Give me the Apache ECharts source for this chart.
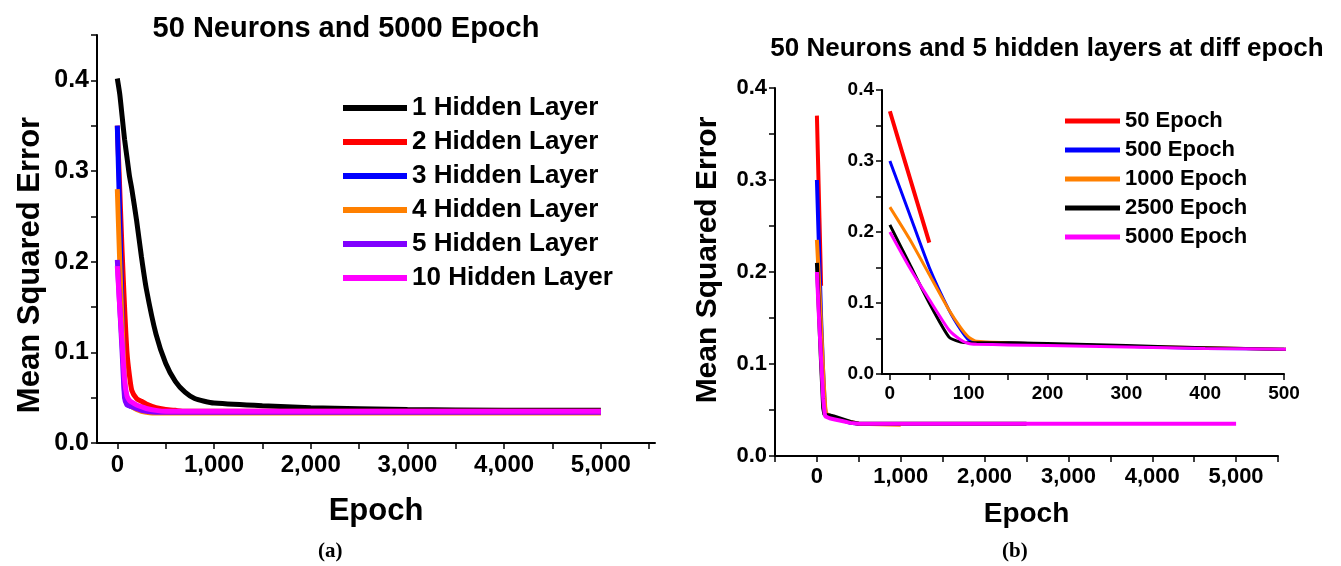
<!DOCTYPE html>
<html>
<head>
<meta charset="utf-8">
<script src="https://cdn.jsdelivr.net/npm/echarts@6/dist/echarts.min.js"></script>
<style>
html,body{margin:0;padding:0;background:#fff;}
#chart{width:1341px;height:566px;}
</style>
</head>
<body>
<div id="chart"></div>
<script>
// (a) 50 neurons, 5000 epoch, different hidden layers
var epochA = [0,25,50,75,100,125,150,200,250,300,400,500,600,700,800,900,1000,1500,2000,3000,4000,5000];
var hl1  = [0.402,0.385,0.36,0.335,0.315,0.295,0.28,0.245,0.205,0.17,0.12,0.088,0.068,0.056,0.049,0.046,0.044,0.041,0.039,0.037,0.036,0.036];
var hl2  = [0.35,0.28,0.21,0.15,0.10,0.075,0.058,0.049,0.046,0.043,0.039,0.037,0.036,0.035,0.035,0.035,0.035,0.035,0.035,0.035,0.035,0.035];
var hl3  = [0.35,0.25,0.14,0.055,0.043,0.041,0.040,0.038,0.036,0.035,0.034,0.034,0.034,0.034,0.034,0.034,0.034,0.034,0.034,0.034,0.034,0.034];
var hl4  = [0.28,0.20,0.13,0.07,0.046,0.042,0.040,0.037,0.035,0.034,0.033,0.033,0.033,0.033,0.033,0.033,0.033,0.033,0.033,0.033,0.033,0.033];
var hl5  = [0.202,0.15,0.10,0.05,0.042,0.041,0.040,0.038,0.036,0.035,0.034,0.034,0.034,0.034,0.034,0.034,0.034,0.034,0.034,0.034,0.034,0.034];
var hl10 = [0.195,0.15,0.11,0.07,0.052,0.047,0.045,0.042,0.040,0.038,0.036,0.035,0.035,0.035,0.035,0.035,0.035,0.035,0.035,0.035,0.035,0.035];
var namesA = ['1 Hidden Layer','2 Hidden Layer','3 Hidden Layer','4 Hidden Layer','5 Hidden Layer','10 Hidden Layer'];
var colorsA = ['#000000','#ff0000','#0000ff','#ff8000','#8000ff','#ff00ff'];

// (b) 50 neurons, 5 hidden layers at diff epoch
var ep50 = [0,10,20,30,40,50];
var mse50 = [0.37,0.333,0.296,0.259,0.222,0.185];
var epochB = [0,25,50,75,90,100,110,150,200,300,400,500,1000,2000,2500,3000,4000,5000];
var mse500  = [0.30,0.225,0.15,0.09,0.062,0.048,0.045,0.044,0.042,0.039,0.036,0.035];
var mse1000 = [0.235,0.19,0.14,0.09,0.065,0.052,0.046,0.044,0.042,0.039,0.037,0.035,0.034];
var mse2500 = [0.21,0.155,0.10,0.052,0.045,0.044,0.044,0.044,0.043,0.040,0.037,0.035,0.035,0.035,0.035];
var mse5000 = [0.20,0.15,0.105,0.062,0.048,0.043,0.042,0.041,0.040,0.038,0.036,0.035,0.035,0.035,0.035,0.035,0.035,0.035];
var namesB = ['50 Epoch','500 Epoch','1000 Epoch','2500 Epoch','5000 Epoch'];
var colorsB = ['#ff0000','#0000ff','#ff8000','#000000','#ff00ff'];

var F = 'Liberation Sans, Arial, sans-serif';

function zip(xs, ys){
    var out = [];
    for(var i=0; i<ys.length; i++) out.push([xs[i], ys[i]]);
    return out;
}
function thousands(v){
    return String(v).replace(/\B(?=(\d{3})+(?!\d))/g, ',');
}
function steps(a, b, s){
    var out = [];
    for(var v=a; v<=b+1e-9; v+=s) out.push(Math.round(v*1000)/1000);
    return out;
}

function xAxisOf(gi, min, max, labels, ticks, size, name, gap, nameSize){
    return {
        type:'value', gridIndex:gi, min:min, max:max,
        name:name, nameLocation:'middle', nameGap:gap,
        nameTextStyle:{fontFamily:F, fontWeight:'bold', fontSize:nameSize, color:'#000'},
        axisLine:{onZero:false, lineStyle:{color:'#000', width:2}},
        axisTick:{customValues:ticks, length:6, lineStyle:{color:'#000', width:1.5}},
        axisLabel:{customValues:labels, formatter:thousands, fontFamily:F, fontWeight:'bold', fontSize:size, color:'#000', margin:10},
        splitLine:{show:false}
    };
}
function yAxisOf(gi, max, ticks, size){
    return {
        type:'value', gridIndex:gi, min:0, max:max,
        axisLine:{show:true, onZero:false, lineStyle:{color:'#000', width:2}},
        axisTick:{customValues:ticks, length:6, lineStyle:{color:'#000', width:1.5}},
        axisLabel:{customValues:[0,0.1,0.2,0.3,0.4], formatter:function(v){return v.toFixed(1);}, fontFamily:F, fontWeight:'bold', fontSize:size, color:'#000', margin:8},
        splitLine:{show:false}
    };
}

var series = [];
var dataA = [hl1, hl2, hl3, hl4, hl5, hl10];
for(var i=0; i<dataA.length; i++){
    series.push({
        name:namesA[i], type:'line', xAxisIndex:0, yAxisIndex:0,
        data:zip(epochA, dataA[i]), showSymbol:false, symbol:'none',
        smooth:0.2,
        itemStyle:{color:colorsA[i]}, lineStyle:{color:colorsA[i], width:5}
    });
}
var dataB = [zip(ep50, mse50), zip(epochB, mse500), zip(epochB, mse1000), zip(epochB, mse2500), zip(epochB, mse5000)];
for(var i=0; i<dataB.length; i++){
    series.push({
        name:namesB[i], type:'line', xAxisIndex:1, yAxisIndex:1,
        data:dataB[i], showSymbol:false, symbol:'none',
        itemStyle:{color:colorsB[i]}, lineStyle:{color:colorsB[i], width:4}
    });
}
for(var i=0; i<dataB.length; i++){
    series.push({
        name:namesB[i], type:'line', xAxisIndex:2, yAxisIndex:2,
        data:dataB[i], showSymbol:false, symbol:'none', clip:true,
        smooth:0.2,
        itemStyle:{color:colorsB[i]}, lineStyle:{color:colorsB[i], width:i==0?4:3}
    });
}

var chart = echarts.init(document.getElementById('chart'), null, {renderer:'canvas'});
chart.setOption({
    animation:false,
    backgroundColor:'#fff',
    title:[
        {text:'50 Neurons and 5000 Epoch', left:341, top:9, textAlign:'center',
         textStyle:{fontFamily:F, fontWeight:'bold', fontSize:29, color:'#000'}},
        {text:'50 Neurons and 5 hidden layers at diff epoch', left:1042, top:31, textAlign:'center',
         textStyle:{fontFamily:F, fontWeight:'bold', fontSize:26, color:'#000'}}
    ],
    legend:[
        {data:namesA, orient:'vertical', left:343, top:95, padding:0, icon:'rect', itemWidth:64, itemHeight:6, itemGap:8,
         textStyle:{fontFamily:F, fontWeight:'bold', fontSize:26, lineHeight:26, color:'#000'}},
        {data:namesB, orient:'vertical', left:1065, top:110, padding:0, icon:'rect', itemWidth:55, itemHeight:5, itemGap:7,
         textStyle:{fontFamily:F, fontWeight:'bold', fontSize:22, lineHeight:22, color:'#000'}}
    ],
    grid:[
        {left:97, right:686, top:35, bottom:123},
        {left:775, right:63, top:88, bottom:110},
        {left:882, right:57, top:90, bottom:192}
    ],
    xAxis:[
        xAxisOf(0, -210, 5560, steps(0,5000,1000), steps(0,5500,500), 24, 'Epoch', 53, 31),
        xAxisOf(1, -500, 5500, steps(0,5000,1000), steps(-500,5500,500), 22, 'Epoch', 44, 28),
        xAxisOf(2, -10, 500, steps(0,500,100), steps(0,500,50), 19, '', 0, 12)
    ],
    yAxis:[
        yAxisOf(0, 0.45, steps(0,0.45,0.05), 25),
        yAxisOf(1, 0.4, steps(0,0.4,0.05), 22),
        yAxisOf(2, 0.4, steps(0,0.4,0.05), 19)
    ],
    graphic:[
        {type:'text', x:30, y:265, rotation:Math.PI/2,
         style:{text:'Mean Squared Error', font:'bold 31px "Liberation Sans", Arial, sans-serif', fill:'#000', align:'center', verticalAlign:'middle'}},
        {type:'text', x:708, y:260, rotation:Math.PI/2,
         style:{text:'Mean Squared Error', font:'bold 30px "Liberation Sans", Arial, sans-serif', fill:'#000', align:'center', verticalAlign:'middle'}},
        {type:'text', left:318, top:541, style:{text:'(a)', font:'bold 21px "Liberation Serif", serif', fill:'#000'}},
        {type:'text', left:1002, top:541, style:{text:'(b)', font:'bold 21px "Liberation Serif", serif', fill:'#000'}}
    ],
    series:series
});
</script>
</body>
</html>
